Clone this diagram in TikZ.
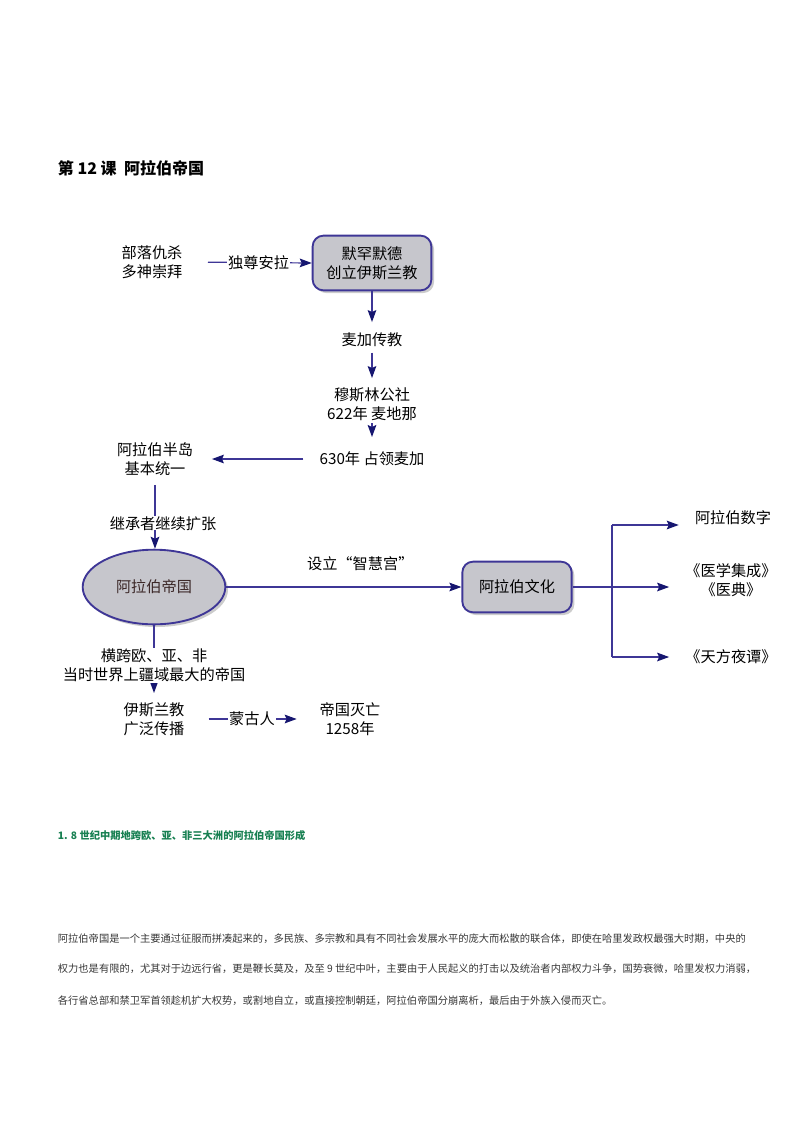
\documentclass[tikz,border=0pt]{standalone}
\usepackage{fontspec}
\setmainfont{Noto Sans CJK SC}
\usepackage{tikz}
\usetikzlibrary{arrows.meta}
\usetikzlibrary{shapes.geometric}
\usetikzlibrary{shadows}

\definecolor{linkblue}{RGB}{62,54,150}
\definecolor{tipblue}{RGB}{22,22,112}
\definecolor{boxgray}{RGB}{198,198,204}
\definecolor{headgreen}{RGB}{24,128,82}
\definecolor{bodygray}{RGB}{55,55,55}

\begin{document}
\begin{tikzpicture}[
        x=0.75pt, y=-0.75pt,
        every node/.style={font=\fontsize{11.4}{14}\selectfont, align=center, inner sep=2pt},
        roundbox/.style={rectangle, rounded corners=8pt, draw=linkblue, line width=1.4pt, fill=boxgray,
            drop shadow={shadow xshift=2pt, shadow yshift=-2pt, opacity=0.4}},
        empirebox/.style={ellipse, draw=linkblue, line width=1.4pt, fill=boxgray, inner sep=0pt,
            minimum width=107pt, minimum height=56pt,
            drop shadow={shadow xshift=2pt, shadow yshift=-2pt, opacity=0.4}},
        link/.style={draw=linkblue, line width=0.9pt, -{Stealth[length=9pt,width=6.5pt,inset=1.5pt,color=tipblue]}},
        plainlink/.style={draw=linkblue, line width=0.9pt},
        onlink/.style={fill=white, inner sep=1pt},
        parline/.style={anchor=west, font=\fontsize{7.7}{9}\selectfont, text=bodygray},
        ]
        \useasboundingbox (0,0) rectangle (800,1132);

        \node[anchor=west, font=\fontsize{12}{14}\selectfont\bfseries](title) at (55,168){第 12 课\ \ 阿拉伯帝国};

        % left column and the chain under the box
        \node(tribes) at (152,262){部落仇杀\\多神崇拜};
        \node[roundbox, minimum width=89pt, minimum height=41pt](muhammad) at (372,263){默罕默德\\创立伊斯兰教};
        \node(mecca) at (372,340){麦加传教};
        \node(umma) at (372,404){穆斯林公社\\622年\ 麦地那};
        \node(conquer) at (372,459){630年\ 占领麦加};
        \node(peninsula) at (155,459){阿拉伯半岛\\基本统一};
        \node[empirebox, text={rgb,255:red,60;green,40;blue,40}](empire) at (154,587){阿拉伯帝国};
        \node(spread) at (154,719){伊斯兰教\\广泛传播};
        \node(fall) at (350,719){帝国灭亡\\1258年};

        % right side
        \node[roundbox, minimum width=82pt, minimum height=38pt](culture) at (517,587){阿拉伯文化};
        \node(numerals) at (733,518){阿拉伯数字};
        \node(medicine) at (731,580){《医学集成》\\《医典》};
        \node(nights) at (731,657){《天方夜谭》};
        \coordinate(forktop) at (612,525);
        \coordinate(forkbot) at (612,657);

        \draw[link, shorten <=17pt] (tribes.east) -- node[onlink, pos=0.58]{独尊安拉} (muhammad.west);
        \draw[link, shorten >=6pt] (muhammad.south) -- (mecca.north);
        \draw[link, shorten <=2pt, shorten >=5pt] (mecca.south) -- (umma.north);
        \draw[link, shorten >=9pt] (umma.south) -- (conquer.north);
        \draw[link, shorten <=10pt, shorten >=12pt] (conquer.west) -- (peninsula.east);
        \draw[link, shorten <=5pt] (peninsula.south) -- (peninsula.south |- empire.north)
            node[pos=0.64, onlink, inner sep=0pt, xshift=6pt]{继承者继续扩张};
        \draw[link] (empire.east) -- (culture.west) node[pos=0.57, above=10pt]{设立“智慧宫”};
        \draw[link, shorten >=5pt] (empire.south) -- (spread.north)
            node[pos=0.54, onlink]{横跨欧、亚、非\\当时世界上疆域最大的帝国};
        \draw[link, shorten <=16pt, shorten >=15pt] (spread.east) -- node[onlink]{蒙古人} (fall.west);

        \draw[link, shorten >=10pt] (culture.east) -- (culture.east -| medicine.west);
        \draw[plainlink] (forktop) -- (forkbot);
        \draw[link, shorten >=10pt] (forktop) -- (forktop -| numerals.west);
        \draw[link, shorten >=10pt] (forkbot) -- (forkbot -| nights.west);

        % text under the diagram
        \node[anchor=west, font=\fontsize{7.7}{9}\selectfont\bfseries, text=headgreen](heading) at (55,836){1. 8 世纪中期地跨欧、亚、非三大洲的阿拉伯帝国形成};
        \node[parline](para1) at (55,939){阿拉伯帝国是一个主要通过征服而拼凑起来的，多民族、多宗教和具有不同社会发展水平的庞大而松散的联合体，即使在哈里发政权最强大时期，中央的};
        \node[parline](para2) at (55,969){权力也是有限的，尤其对于边远行省，更是鞭长莫及，及至 9 世纪中叶，主要由于人民起义的打击以及统治者内部权力斗争，国势衰微，哈里发权力消弱，};
        \node[parline](para3) at (55,1001){各行省总部和禁卫军首领趁机扩大权势，或割地自立，或直接控制朝廷，阿拉伯帝国分崩离析，最后由于外族入侵而灭亡。};
\end{tikzpicture}
\end{document}
